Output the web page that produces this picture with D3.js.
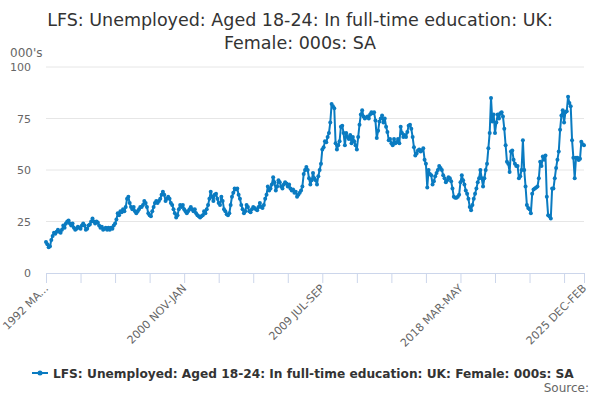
<!DOCTYPE html>
<html lang="en">
<head>
    <meta charset="UTF-8">
    <title>LFS: Unemployed: Aged 18-24: In full-time education: UK: Female: 000s: SA</title>
    <script src="https://d3js.org/d3.v7.min.js"></script>
    <style>
        body { margin: 0; background: #fff; }
        svg text { font-family: "DejaVu Sans", sans-serif; }
    </style>
</head>
<body>
<svg id="chart" width="600" height="400"></svg>

<script>
    const width = 600;
    const height = 400;

    const titleLines = ["LFS: Unemployed: Aged 18-24: In full-time education: UK:", "Female: 000s: SA"];
    const seriesName = "LFS: Unemployed: Aged 18-24: In full-time education: UK: Female: 000s: SA";
    const startYear = 1992;
    const startMonth = 2; // MAR
    const months = ["JAN", "FEB", "MAR", "APR", "MAY", "JUN", "JUL", "AUG", "SEP", "OCT", "NOV", "DEC"];

    // values, one per rolling quarter, grouped by year (MAR-MAY first)
    const values = [
        15, 14, 12.5, 13, 16, 18, 19.5, 19, 20, 21, 20, 19.5,
        21, 23, 22, 24, 25, 25.5, 24, 23, 24, 22, 21, 21.5,
        22.5, 22, 21.5, 23, 24, 23, 21, 21.5, 23, 23.5, 25, 26.5,
        25, 24, 25, 24.5, 23, 22, 22.5, 21, 21.5, 22, 21, 22,
        21, 22, 21.5, 23, 24, 26, 29, 28, 30, 29.5, 31, 30,
        32, 36, 37, 34, 32, 31, 32, 30, 29, 30, 31, 32,
        32, 33, 35, 34, 32, 29, 28, 27.5, 30, 32, 34, 35,
        34, 35, 36, 38, 39.5, 38, 35, 36, 37, 36, 34, 33,
        31, 29, 27, 28, 31, 33, 32, 33, 31, 30, 29, 30,
        31, 32, 31, 30, 31, 29, 28, 27.5, 27, 27.5, 28, 30,
        29, 31, 33, 36, 39.5, 37, 35, 38, 38.5, 36, 34, 33,
        37, 35, 31, 30, 28.5, 28, 29, 33, 37, 39, 41, 40.5,
        41, 38, 36, 33, 31, 29, 30, 33, 32, 30, 29.5, 31,
        32, 31.5, 31, 30.5, 32, 34, 32, 31.5, 33, 36, 38, 42,
        40, 41, 43, 46.5, 44, 40, 42, 45, 44, 42, 41, 43,
        44, 43.5, 42, 43, 41, 40, 40.5, 39, 39.5, 37, 38, 39,
        40, 42, 48, 50, 51.5, 50, 46, 43, 45, 48.5, 46, 45,
        43, 47, 50, 53, 60, 61, 64, 63.5, 66, 68, 73, 82,
        81, 80, 63, 60, 62, 64, 71, 71.5, 68, 62, 68, 66,
        65, 67, 63, 66, 64, 62, 60, 66, 72, 77, 79, 76,
        75, 75.5, 76, 75, 77, 78, 77.5, 78, 74, 65.5, 69, 73.5,
        75, 76.5, 73, 75, 71, 68.5, 64.5, 65, 63, 62, 65, 63,
        63.5, 65, 63, 71, 68, 66, 67, 66, 68.5, 71.5, 72, 70,
        66, 61, 57, 58, 59.5, 60, 59, 59.5, 60.5, 55, 53, 41.5,
        50, 48, 47.5, 43, 44.5, 47, 48.5, 50, 52, 51, 50, 47.5,
        46, 44, 45, 46.5, 46, 44.5, 41, 37, 36.5, 36.5, 37, 38,
        44, 47.5, 45, 43, 40, 38.5, 36, 32, 30.5, 33, 36, 38.5,
        41, 44, 46, 50, 46, 42, 46, 50, 53, 60.5, 68, 85,
        73.5, 77, 68, 73, 77, 75, 77.5, 78, 76, 70, 62, 54,
        53, 49, 59, 59.5, 55, 53, 52, 52, 46, 47, 50, 64.5,
        50, 42, 33, 31.5, 31, 29, 38.5, 40.5, 41, 41.5, 42, 46,
        54, 52, 56.5, 55, 57, 37, 28, 27.5, 26.5, 41, 41, 46,
        51, 55, 59, 69.5, 76.5, 79, 73, 78, 78.5, 85.5, 82.5, 81,
        64.5, 56, 46, 56, 56, 54.8, 55.5, 63.7, 62.5, 62
    ];

    const yTicks = [0, 25, 50, 75, 100];
    const xTickLabels = ["1992 MA...", "2000 NOV-JAN", "2009 JUL-SEP", "2018 MAR-MAY", "2025 DEC-FEB"];

    // category name for each rolling quarter
    const periods = values.map((v, i) => {
        const m = startMonth + i;
        const y = startYear + Math.floor(m / 12);
        return y + " " + months[m % 12] + "-" + months[(m + 2) % 12];
    });

    const margin = { top: 67, right: 16, bottom: 127, left: 46 };
    const svg = d3.select("#chart");

    const x = d3.scalePoint()
        .domain(periods)
        .range([margin.left, width - margin.right]);

    const y = d3.scaleLinear()
        .domain([0, 100])
        .range([height - margin.bottom, margin.top]);

    // title
    svg.append("g").selectAll("text")
        .data(titleLines)
        .join("text")
        .attr("x", width / 2)
        .attr("y", (d, i) => 26 + i * 23)
        .attr("text-anchor", "middle")
        .attr("font-size", 17.5)
        .attr("fill", "#333")
        .text(d => d);

    svg.append("text")
        .attr("x", 10)
        .attr("y", 57)
        .attr("font-size", 12)
        .attr("fill", "#666")
        .text("000's");

    // gridlines and y labels
    const grid = svg.append("g");
    grid.selectAll("line")
        .data(yTicks.filter(d => d > 0))
        .join("line")
        .attr("x1", margin.left)
        .attr("x2", width - margin.right)
        .attr("y1", d => y(d))
        .attr("y2", d => y(d))
        .attr("stroke", "#e6e6e6");

    grid.selectAll("text")
        .data(yTicks)
        .join("text")
        .attr("x", 31)
        .attr("y", d => y(d) + 4)
        .attr("text-anchor", "end")
        .attr("font-size", 11)
        .attr("fill", "#666")
        .text(d => d);

    // x axis
    const tickPeriods = periods.filter((p, i) => i % 26 === 0 || i === periods.length - 1);
    const labelled = [0, 104, 208, 312, periods.length - 1].map(i => periods[i]);

    const xAxis = d3.axisBottom(x)
        .tickValues(tickPeriods)
        .tickSize(10)
        .tickFormat("");

    const gx = svg.append("g")
        .attr("transform", `translate(0,${y(0)})`)
        .call(xAxis);
    gx.select(".domain").attr("stroke", "#ccd6eb");
    gx.selectAll(".tick line").attr("stroke", "#ccd6eb");

    svg.append("g").selectAll("text")
        .data(labelled)
        .join("text")
        .attr("transform", d => `translate(${x(d) + 3},${y(0) + 16}) rotate(-45)`)
        .attr("text-anchor", "end")
        .attr("font-size", 11)
        .attr("fill", "#666")
        .text((d, i) => xTickLabels[i]);

    // series
    const color = "#0a7bc1";
    const line = d3.line()
        .x((d, i) => x(periods[i]))
        .y(d => y(d));

    svg.append("path")
        .datum(values)
        .attr("fill", "none")
        .attr("stroke", color)
        .attr("stroke-width", 2)
        .attr("stroke-linejoin", "round")
        .attr("d", line);

    svg.append("g").selectAll("circle")
        .data(values)
        .join("circle")
        .attr("cx", (d, i) => x(periods[i]))
        .attr("cy", d => y(d))
        .attr("r", 2)
        .attr("fill", color);

    // legend
    const legend = svg.append("g").attr("transform", "translate(32,373)");
    legend.append("line")
        .attr("x1", 0).attr("x2", 16)
        .attr("y1", 0).attr("y2", 0)
        .attr("stroke", color)
        .attr("stroke-width", 2);
    legend.append("circle")
        .attr("cx", 8).attr("cy", 0).attr("r", 2.5)
        .attr("fill", color);
    legend.append("text")
        .attr("x", 21)
        .attr("y", 4.5)
        .attr("font-size", 12.2)
        .attr("font-weight", "bold")
        .attr("fill", "#333")
        .text(seriesName);

    svg.append("text")
        .attr("x", 589)
        .attr("y", 392)
        .attr("text-anchor", "end")
        .attr("font-size", 12)
        .attr("fill", "#666")
        .text("Source:");
</script>
</body>
</html>
